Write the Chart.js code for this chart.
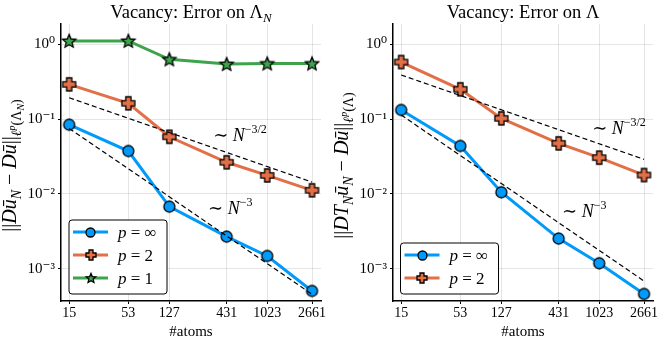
<!DOCTYPE html>
<html><head><meta charset="utf-8">
<script src="https://cdn.jsdelivr.net/npm/chart.js@4"></script>
<style>
html,body{margin:0;padding:0;background:#fff;width:664px;height:342px;overflow:hidden}
canvas{position:absolute;top:0}
#c1{left:0}
#c2{left:332px}
</style></head><body>
<canvas id="c1" width="332" height="342"></canvas>
<canvas id="c2" width="332" height="342"></canvas>
<script>
// ---------- data ----------
const atoms = [15, 53, 127, 431, 1023, 2661];
const yTickValues = [1e-3, 1e-2, 1e-1, 1];
const seriesLabels = ['p = ∞', 'p = 2', 'p = 1'];
const leftPInf = [0.084, 0.0374, 0.00678, 0.0027, 0.00149, 0.000509];
const leftP2   = [0.29, 0.162, 0.058, 0.0265, 0.0177, 0.0112];
const leftP1   = [1.1, 1.1, 0.625, 0.54, 0.55, 0.55];
const rightPInf = [0.132, 0.0437, 0.01054, 0.00254, 0.00119, 0.000464];
const rightP2   = [0.575, 0.249, 0.102, 0.0474, 0.0305, 0.0179];
const refAtoms = [15, 2661];
const leftRef32 = [0.192, 0.0144];
const leftRef3  = [0.075, 0.00046];
const rightRef32 = [0.386, 0.029];
const rightRef3  = [0.113, 0.00069];

// ---------- styling ----------
const BLUE = '#009AFA', ORANGE = '#E26F46', GREEN = '#3DA44D';
const FAM = '"Liberation Serif","DejaVu Serif","Times New Roman",serif';
function fnt(size, italic){ return (italic ? 'italic ' : '') + size + 'px ' + FAM; }

function makeMarker(kind, size, color){
  const pad = 2, S = Math.ceil(size + pad*2);
  const c = document.createElement('canvas'); c.width = S; c.height = S;
  const g = c.getContext('2d'); const m = S/2, r = size/2;
  g.beginPath();
  if (kind === 'plus'){
    const w = r*0.4;
    const pts = [[-w,-r],[w,-r],[w,-w],[r,-w],[r,w],[w,w],[w,r],[-w,r],[-w,w],[-r,w],[-r,-w],[-w,-w]];
    pts.forEach((p,i)=> i ? g.lineTo(m+p[0], m+p[1]) : g.moveTo(m+p[0], m+p[1]));
    g.closePath();
  } else if (kind === 'star'){
    for (let i=0;i<10;i++){
      const a = -Math.PI/2 + i*Math.PI/5, rr = (i%2) ? r*0.45 : r;
      const x = m + rr*Math.cos(a), y = m + rr*Math.sin(a) + r*0.08;
      i ? g.lineTo(x,y) : g.moveTo(x,y);
    }
    g.closePath();
  } else {
    g.arc(m, m, r, 0, Math.PI*2);
  }
  g.fillStyle = color; g.fill();
  g.lineWidth = 1.3; g.strokeStyle = '#000'; g.lineJoin = 'miter'; g.stroke();
  return c;
}

function drawRich(ctx, segs, x, y, align){
  let w = 0;
  segs.forEach(s => { ctx.font = fnt(s.s, s.i); w += ctx.measureText(s.t).width; });
  let cx = align === 'center' ? x - w/2 : (align === 'right' ? x - w : x);
  ctx.textAlign = 'left'; ctx.textBaseline = 'alphabetic';
  segs.forEach(s => { ctx.font = fnt(s.s, s.i); ctx.fillText(s.t, cx, y + (s.dy||0)); cx += ctx.measureText(s.t).width; });
}
function labelSegs(str, size){
  return [{t: str.charAt(0), s: size, i: true}, {t: str.slice(1), s: size}];
}
function sup(v){
  const e = Math.round(Math.log10(v));
  const map = {'-':'⁻','0':'⁰','1':'¹','2':'²','3':'³','4':'⁴','5':'⁵','6':'⁶','7':'⁷','8':'⁸','9':'⁹'};
  return '10' + String(e).split('').map(ch => map[ch]).join('');
}

const overlay = {
  id: 'overlay',
  afterDraw(chart, args, o){
    const {ctx, chartArea: a, scales: {x, y}} = chart;
    ctx.save();
    ctx.fillStyle = '#000';
    drawRich(ctx, o.title, (a.left + a.right)/2, 18, 'center');
    ctx.save();
    ctx.translate(16, (a.top + a.bottom)/2 + 3);
    ctx.rotate(-Math.PI/2);
    drawRich(ctx, o.ylabel, 0, 0, 'center');
    ctx.restore();
    o.notes.forEach(n => drawRich(ctx, n.segs, x.getPixelForValue(n.x), y.getPixelForValue(n.y), 'left'));
    // legend
    const L = o.legend, n = L.items.length;
    const h = 12 + 23*(n-1) + 16, w = 98;
    const lx = a.left + L.dx, ly = a.bottom - L.gap - h;
    const r = 3;
    ctx.beginPath();
    ctx.moveTo(lx+r, ly); ctx.lineTo(lx+w-r, ly); ctx.arcTo(lx+w, ly, lx+w, ly+r, r);
    ctx.lineTo(lx+w, ly+h-r); ctx.arcTo(lx+w, ly+h, lx+w-r, ly+h, r);
    ctx.lineTo(lx+r, ly+h); ctx.arcTo(lx, ly+h, lx, ly+h-r, r);
    ctx.lineTo(lx, ly+r); ctx.arcTo(lx, ly, lx+r, ly, r); ctx.closePath();
    ctx.fillStyle = '#fff'; ctx.fill();
    ctx.lineWidth = 1; ctx.strokeStyle = '#000'; ctx.stroke();
    L.items.forEach((it, i) => {
      const cy = ly + 12 + 23*i;
      ctx.beginPath(); ctx.moveTo(lx+4, cy); ctx.lineTo(lx+39, cy);
      ctx.strokeStyle = it.color; ctx.lineWidth = 3; ctx.stroke();
      const m = it.marker;
      ctx.drawImage(m, Math.round(lx + 21.5 - m.width/2), Math.round(cy - m.height/2));
      ctx.fillStyle = '#000';
      drawRich(ctx, labelSegs(it.label, 17), lx + 49, cy + 5.5, 'left');
    });
    ctx.restore();
  }
};

function makeChart(id, cfg){
  const datasets = [];
  cfg.refs.forEach(rv => datasets.push({
    data: refAtoms.map((v,i) => ({x: v, y: rv[i]})),
    borderColor: '#000', borderWidth: 1.2, borderDash: [5,3],
    pointRadius: 0, fill: false, order: 0
  }));
  cfg.series.forEach((s, k) => datasets.push({
    data: atoms.map((v,i) => ({x: v, y: s.values[i]})),
    borderColor: s.color, backgroundColor: s.color, borderWidth: 3,
    pointStyle: makeMarker(s.kind, s.size, s.color), pointRadius: 6,
    fill: false, order: 10 - k
  }));
  const tickFont = {family: FAM, size: 14};
  return new Chart(document.getElementById(id), {
    type: 'line',
    data: {datasets},
    plugins: [overlay],
    options: {
      responsive: false, animation: false, devicePixelRatio: 1,
      layout: {padding: {top: 24, right: 11, left: 0, bottom: 0}},
      plugins: {
        legend: {display: false}, tooltip: {enabled: false},
        overlay: {title: cfg.title, ylabel: cfg.ylabel, notes: cfg.notes, legend: cfg.legend}
      },
      scales: {
        x: {
          type: 'logarithmic', min: 12.6, max: 3222,
          afterBuildTicks: s => { s.ticks = atoms.map(v => ({value: v})); },
          afterFit: s => { s.height = 41; },
          ticks: {callback: v => String(v), font: tickFont, color: '#000', maxRotation: 0, autoSkip: false, padding: 1},
          grid: {color: 'rgba(0,0,0,0.1)', lineWidth: 1, tickColor: '#000', tickLength: 3},
          border: {color: '#000', width: 1.5},
          title: {display: true, text: '#atoms', font: {family: FAM, size: 15}, color: '#000', padding: {top: 0, bottom: 1}}
        },
        y: {
          type: 'logarithmic', min: 3.74e-4, max: 1.85,
          afterBuildTicks: s => { s.ticks = yTickValues.map(v => ({value: v})); },
          afterFit: s => { s.width = 61; },
          ticks: {callback: v => sup(v), font: {family: FAM, size: 15}, color: '#000', padding: 3},
          grid: {color: 'rgba(0,0,0,0.1)', lineWidth: 1, tickColor: '#000', tickLength: 3},
          border: {color: '#000', width: 1.5}
        }
      }
    }
  });
}

const TS = 18.5, YS = 20, SS = 14, SSS = 10;
makeChart('c1', {
  title: [{t: 'Vacancy: Error on Λ', s: TS}, {t: 'N', s: 13, i: true, dy: 4}],
  ylabel: [{t: '||', s: YS}, {t: 'Dū', s: YS, i: true}, {t: 'N', s: SS, i: true, dy: 5},
           {t: ' − ', s: YS}, {t: 'Dū', s: YS, i: true}, {t: '||', s: YS},
           {t: 'ℓ', s: SS, i: true, dy: 5}, {t: 'p', s: SSS, i: true, dy: -1},
           {t: '(Λ', s: SS, dy: 5}, {t: 'N', s: SSS, i: true, dy: 8}, {t: ')', s: SS, dy: 5}],
  refs: [leftRef32, leftRef3],
  series: [
    {values: leftPInf, color: BLUE, kind: 'circle', size: 11},
    {values: leftP2, color: ORANGE, kind: 'plus', size: 13},
    {values: leftP1, color: GREEN, kind: 'star', size: 14}
  ],
  notes: [
    {x: 323, y: 0.0509, segs: [{t: '∼ ', s: 18}, {t: 'N', s: 18, i: true}, {t: '−3/2', s: 12, dy: -8}]},
    {x: 290, y: 0.0054, segs: [{t: '∼ ', s: 18}, {t: 'N', s: 18, i: true}, {t: '−3', s: 12, dy: -8}]}
  ],
  legend: {dx: 8, gap: 7, items: [
    {label: seriesLabels[0], color: BLUE, marker: makeMarker('circle', 9, BLUE)},
    {label: seriesLabels[1], color: ORANGE, marker: makeMarker('plus', 10, ORANGE)},
    {label: seriesLabels[2], color: GREEN, marker: makeMarker('star', 10, GREEN)}
  ]}
});
makeChart('c2', {
  title: [{t: 'Vacancy: Error on Λ', s: TS}],
  ylabel: [{t: '||', s: YS}, {t: 'DT', s: YS, i: true}, {t: 'N', s: SS, i: true, dy: 5},
           {t: 'ū', s: YS, i: true}, {t: 'N', s: SS, i: true, dy: 5},
           {t: ' − ', s: YS}, {t: 'Dū', s: YS, i: true}, {t: '||', s: YS},
           {t: 'ℓ', s: SS, i: true, dy: 5}, {t: 'p', s: SSS, i: true, dy: -1},
           {t: '(Λ)', s: SS, dy: 5}],
  refs: [rightRef32, rightRef3],
  series: [
    {values: rightPInf, color: BLUE, kind: 'circle', size: 11},
    {values: rightP2, color: ORANGE, kind: 'plus', size: 13}
  ],
  notes: [
    {x: 880, y: 0.063, segs: [{t: '∼ ', s: 18}, {t: 'N', s: 18, i: true}, {t: '−3/2', s: 12, dy: -8}]},
    {x: 464, y: 0.00493, segs: [{t: '∼ ', s: 18}, {t: 'N', s: 18, i: true}, {t: '−3', s: 12, dy: -8}]}
  ],
  legend: {dx: 7.5, gap: 7, items: [
    {label: seriesLabels[0], color: BLUE, marker: makeMarker('circle', 9, BLUE)},
    {label: seriesLabels[1], color: ORANGE, marker: makeMarker('plus', 10, ORANGE)}
  ]}
});
</script>
</body></html>
